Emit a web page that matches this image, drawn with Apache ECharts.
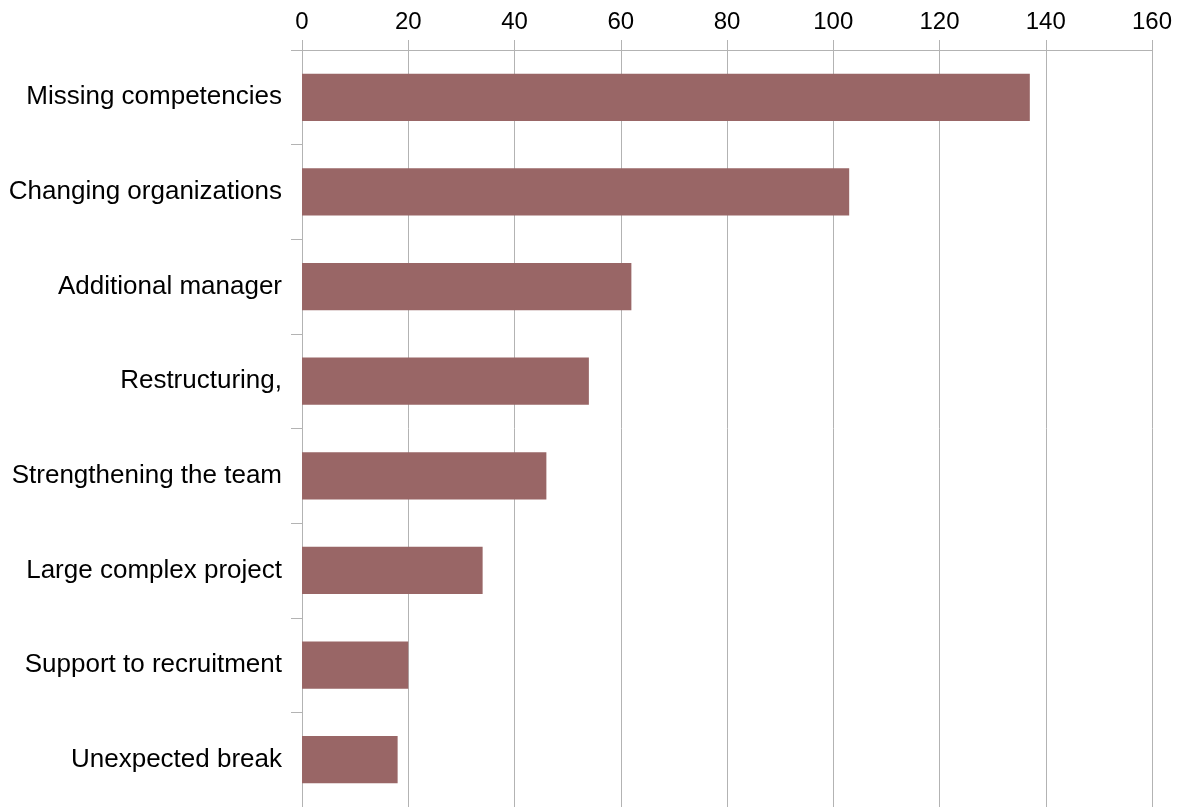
<!DOCTYPE html>
<html>
<head>
<meta charset="utf-8">
<script src="https://cdn.jsdelivr.net/npm/echarts@6/dist/echarts.min.js"></script>
<style>
  html, body { margin: 0; padding: 0; background: #ffffff; }
  #chart { width: 1179px; height: 807px; }
</style>
</head>
<body>
<div id="chart"></div>
<script>
// Reasons, listed top to bottom
const categories = [
  'Missing competencies',
  'Changing organizations',
  'Additional manager',
  'Restructuring,',
  'Strengthening the team',
  'Large complex project',
  'Support to recruitment',
  'Unexpected break'
];
const counts = [137, 103, 62, 54, 46, 34, 20, 18];

const axisMin = 0;
const axisMax = 160;
const axisStep = 20;

const gridGray = '#b3b3b3';
const font = '"Liberation Sans", Arial, sans-serif';

const chart = echarts.init(document.getElementById('chart'), null, { renderer: 'canvas' });
chart.setOption({
  animation: false,
  backgroundColor: '#ffffff',
  grid: { left: 302, right: 27, top: 50, height: 758, containLabel: false },
  xAxis: {
    type: 'value',
    position: 'top',
    min: axisMin,
    max: axisMax,
    interval: axisStep,
    axisLine: { show: true, lineStyle: { color: gridGray, width: 1 } },
    axisTick: { show: true, length: 10, lineStyle: { color: gridGray } },
    splitLine: { show: true, lineStyle: { color: gridGray, width: 1 } },
    axisLabel: { color: '#000000', fontSize: 24, fontFamily: font, margin: 16 }
  },
  yAxis: {
    type: 'category',
    data: categories,
    inverse: true,
    axisLine: { show: true, lineStyle: { color: gridGray, width: 1 } },
    axisTick: { show: true, length: 11, lineStyle: { color: gridGray } },
    axisLabel: { color: '#000000', fontSize: 26, fontFamily: font, margin: 20 }
  },
  series: [{
    type: 'bar',
    data: counts,
    barCategoryGap: '50%',
    itemStyle: { color: '#996666' }
  }]
});
</script>
</body>
</html>
